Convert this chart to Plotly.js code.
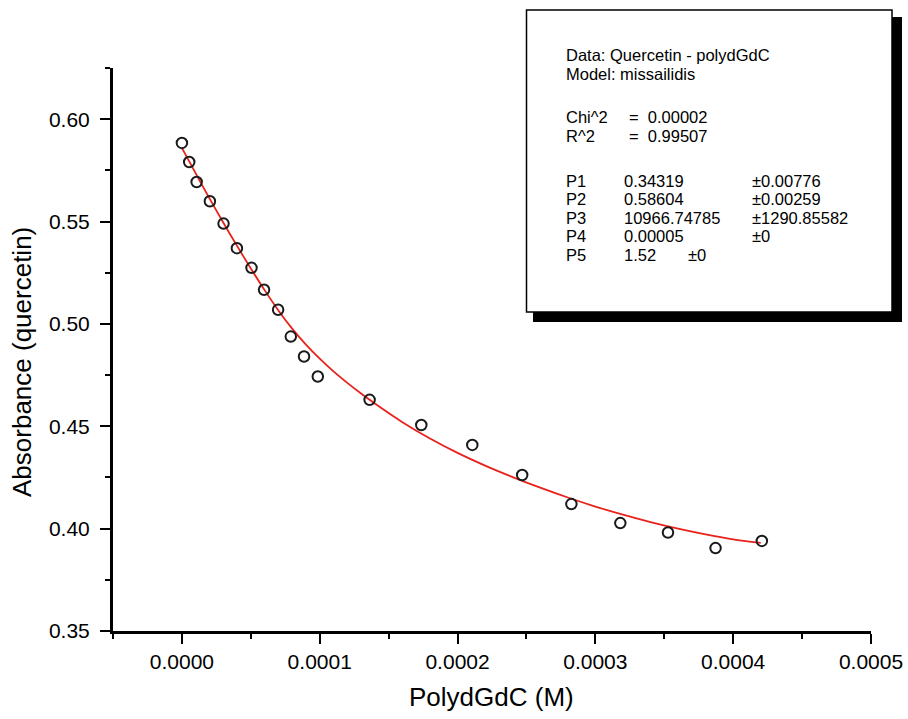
<!DOCTYPE html>
<html>
<head>
<meta charset="utf-8">
<script src="https://cdn.plot.ly/plotly-3.0.1.min.js"></script>
<style>html,body{margin:0;padding:0;background:#fff;}#chart{width:908px;height:719px;}</style>
</head>
<body>
<div id="chart"></div>
<script>
// Measured data points (open circles)
const concM = [0, 0.0000053, 0.0000107, 0.0000203, 0.0000302, 0.0000399, 0.0000505, 0.0000596, 0.0000698, 0.000079, 0.0000886, 0.0000986, 0.0001362, 0.0001737, 0.0002107, 0.0002469, 0.0002826, 0.0003181, 0.0003527, 0.0003872, 0.0004208];
const absorbance = [0.5884, 0.5791, 0.5693, 0.5599, 0.5490, 0.5370, 0.5274, 0.5167, 0.5069, 0.4938, 0.4841, 0.4743, 0.4629, 0.4506, 0.4409, 0.4262, 0.4120, 0.4027, 0.3981, 0.3905, 0.3940];

// Fitted curve (red line)
const fitX = [0, 0.00001, 0.00002, 0.00003, 0.00004, 0.00005, 0.00006, 0.00007, 0.00008, 0.00009, 0.0001, 0.00011, 0.00012, 0.00013, 0.00014, 0.00016, 0.00018, 0.0002, 0.00022, 0.00024, 0.00026, 0.00028, 0.0003, 0.00032, 0.00034, 0.00036, 0.00038, 0.0004, 0.00042];
const fitY = [0.5860, 0.5735, 0.5613, 0.5495, 0.5381, 0.5271, 0.5165, 0.5066, 0.4977, 0.4899, 0.4830, 0.4768, 0.4712, 0.4660, 0.4611, 0.4520, 0.4440, 0.4370, 0.4308, 0.4252, 0.4200, 0.4152, 0.4108, 0.4068, 0.4032, 0.4000, 0.3972, 0.3948, 0.3930];

// Text box content
const boxHeader = ["Data: Quercetin - polydGdC", "Model: missailidis"];
const statNames = ["Chi^2", "R^2"];
const statValues = ["=  0.00002", "=  0.99507"];
const paramNames = ["P1", "P2", "P3", "P4", "P5"];
const paramValues = ["0.34319", "0.58604", "10966.74785", "0.00005", "1.52"];
const paramErrors = ["±0.00776", "±0.00259", "±1290.85582", "±0", "±0"];

const xTitle = "PolydGdC (M)";
const yTitle = "Absorbance (quercetin)";

const W = 908, H = 719;
const M = {l: 113, r: 37, t: 68, b: 88};
const PW = W - M.l - M.r, PH = H - M.t - M.b;
const px = x => (x - M.l) / PW;
const py = y => (H - M.b - y) / PH;

const FONT = "Liberation Sans, Arial, sans-serif";

const traces = [
  {
    x: fitX, y: fitY, type: 'scatter', mode: 'lines',
    line: {color: '#e8221b', width: 1.8, shape: 'spline', smoothing: 0.8},
    hoverinfo: 'skip', showlegend: false
  },
  {
    x: concM, y: absorbance, type: 'scatter', mode: 'markers',
    marker: {symbol: 'circle-open', size: 10.5, color: '#1a1a1a', line: {width: 2, color: '#1a1a1a'}},
    showlegend: false
  }
];

const annotations = [];
const txt = (text, x, y, size) => annotations.push({
  text: text, xref: 'paper', yref: 'paper', x: px(x), y: py(y),
  xanchor: 'left', yanchor: 'middle', showarrow: false,
  font: {family: FONT, size: size || 16.5, color: '#000'}
});
txt(boxHeader[0], 564, 55);
txt(boxHeader[1], 564, 74);
const statY = [117, 136];
statNames.forEach((n, i) => { txt(n, 564, statY[i]); txt(statValues[i], 627, statY[i]); });
const paramY = [180.5, 199, 217.5, 236, 255];
paramNames.forEach((n, i) => {
  txt(n, 564, paramY[i]);
  txt(paramValues[i], 622, paramY[i]);
  txt(paramErrors[i], i === 4 ? 686 : 750, paramY[i]);
});
// axis titles
annotations.push({text: xTitle, xref: 'paper', yref: 'paper', x: px(491), y: py(697),
  xanchor: 'center', yanchor: 'middle', showarrow: false, font: {family: FONT, size: 26, color: '#000'}});
annotations.push({text: yTitle, xref: 'paper', yref: 'paper', x: px(22), y: py(362),
  xanchor: 'center', yanchor: 'middle', showarrow: false, textangle: -90,
  font: {family: FONT, size: 26, color: '#000'}});

const shapes = [
  {type: 'rect', xref: 'paper', yref: 'paper', x0: px(533), x1: px(902), y0: py(17), y1: py(322),
   fillcolor: '#000', line: {width: 0}, layer: 'above'},
  {type: 'rect', xref: 'paper', yref: 'paper', x0: px(526.5), x1: px(892), y0: py(10), y1: py(312),
   fillcolor: '#fff', line: {width: 1.5, color: '#000'}, layer: 'above'}
];

const layout = {
  width: W, height: H,
  margin: M,
  paper_bgcolor: '#fff', plot_bgcolor: '#fff',
  font: {family: FONT, color: '#000'},
  showlegend: false,
  xaxis: {
    range: [-0.00005, 0.0005], showgrid: false, zeroline: false,
    showline: true, linecolor: '#000', linewidth: 3,
    ticks: 'outside', ticklen: 10, tickwidth: 2, tickcolor: '#000',
    tick0: 0, dtick: 0.0001, tickformat: '.4f',
    tickfont: {family: FONT, size: 21, color: '#000'},
    minor: {ticks: 'outside', dtick: 0.00005, ticklen: 5, tickwidth: 2, tickcolor: '#000', showgrid: false}
  },
  yaxis: {
    range: [0.35, 0.625], showgrid: false, zeroline: false,
    showline: true, linecolor: '#000', linewidth: 3,
    ticks: 'outside', ticklen: 10, tickwidth: 2, tickcolor: '#000',
    tick0: 0.35, dtick: 0.05, tickformat: '.2f', ticklabelstandoff: 6,
    tickfont: {family: FONT, size: 21, color: '#000'},
    minor: {ticks: 'outside', dtick: 0.025, ticklen: 5, tickwidth: 2, tickcolor: '#000', showgrid: false}
  },
  annotations: annotations,
  shapes: shapes
};

Plotly.newPlot('chart', traces, layout, {displayModeBar: false, staticPlot: true});
</script>
</body>
</html>
